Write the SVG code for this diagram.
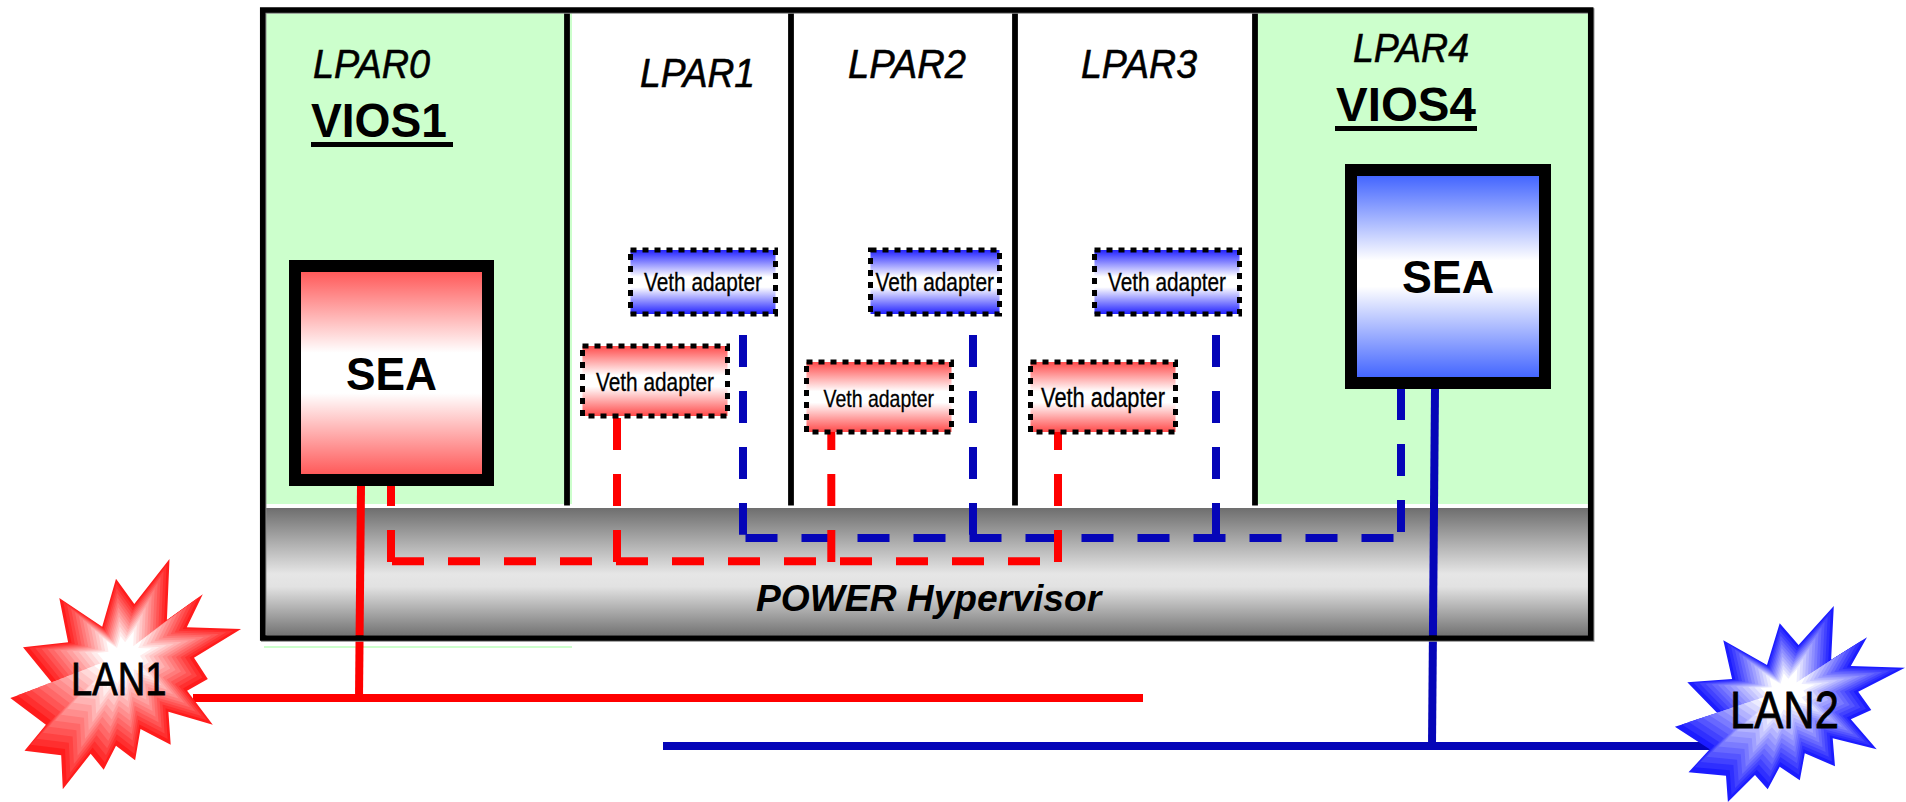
<svg xmlns="http://www.w3.org/2000/svg" xmlns:xlink="http://www.w3.org/1999/xlink" width="1906" height="802" viewBox="0 0 1906 802">
<style>
text{font-family:"Liberation Sans",Arial,sans-serif;fill:#000}
.lp{font-size:40.5px;font-style:italic;stroke:#000;stroke-width:.6}
.vi{font-size:47.5px;font-weight:bold}
.se{font-size:46.5px;font-weight:bold}
.ve{font-size:25px;stroke:#000;stroke-width:.3}
.la{font-size:46.5px;stroke:#000;stroke-width:.8}
.green{fill:#ccffcc}
.div{stroke:#000;stroke-width:5.8;fill:none}
.rd{stroke:#ff0000;stroke-width:8;fill:none;stroke-dasharray:32 24}
.bd{stroke:#0505b8;stroke-width:8;fill:none;stroke-dasharray:32 24}
.rs{stroke:#ff0000;stroke-width:8;fill:none}
.bs{stroke:#0505b8;stroke-width:8;fill:none}
.dot{stroke:#000;stroke-width:5;stroke-dasharray:6 6}
</style>
<defs>
<linearGradient id="hyp" x1="0" y1="0" x2="0" y2="1"><stop offset="0" stop-color="#6e6e6e"/><stop offset=".3" stop-color="#b4b4b4"/><stop offset=".52" stop-color="#e6e6e6"/><stop offset=".62" stop-color="#e2e2e2"/><stop offset="1" stop-color="#747474"/></linearGradient>
<linearGradient id="seaR" x1="0" y1="0" x2="0" y2="1"><stop offset="0" stop-color="#ff5a5a"/><stop offset=".4" stop-color="#ffffff"/><stop offset=".6" stop-color="#ffffff"/><stop offset="1" stop-color="#ff5a5a"/></linearGradient>
<linearGradient id="seaB" x1="0" y1="0" x2="0" y2="1"><stop offset="0" stop-color="#4466ff"/><stop offset=".42" stop-color="#ffffff"/><stop offset=".55" stop-color="#ffffff"/><stop offset="1" stop-color="#4466ff"/></linearGradient>
<linearGradient id="vetR" x1="0" y1="0" x2="0" y2="1"><stop offset="0" stop-color="#ff4a4a"/><stop offset=".42" stop-color="#ffffff"/><stop offset=".58" stop-color="#ffffff"/><stop offset="1" stop-color="#ff4a4a"/></linearGradient>
<linearGradient id="vetB" x1="0" y1="0" x2="0" y2="1"><stop offset="0" stop-color="#2222ff"/><stop offset=".42" stop-color="#ffffff"/><stop offset=".58" stop-color="#ffffff"/><stop offset="1" stop-color="#2222ff"/></linearGradient>
<polygon id="star1" transform="translate(-122 -655)" points="169.5,559 166.9,620 202.8,594.3 186.8,627.3 241.1,629 194,657.7 207.8,679 187.1,690.7 212.8,724.7 168.4,711.7 170.7,744.7 140.5,729 135.1,760.3 116,745.7 103.7,769.7 90.7,753.7 62.8,789.3 61.2,755.3 24.5,750.7 45.9,724.7 10.3,698 52.4,683.3 23,647.3 68.1,642.3 59.3,598 102.2,626.7 116,578.7 134.3,604"/>
<polygon id="star2" transform="translate(-1785 -690)" points="1833.8,606 1831.1,660 1867,637.3 1850.8,666 1905,667.7 1858.2,691.7 1871.3,710 1850.8,719.3 1876.7,749.3 1832.7,738.3 1835,766.3 1804.8,753.3 1799.8,780.3 1779.7,766.7 1767.7,789.3 1755,775 1727.9,802 1726,775.7 1688.5,772.3 1709.7,749.3 1674.9,726.7 1717.5,713.3 1687.3,682.3 1732.1,679 1723.3,640.3 1767,665 1779.7,623.3 1798.6,645"/>
</defs>

<g id="panels">
<rect class="green" x="265" y="13" width="307" height="491"/>
<rect class="green" x="1257" y="13" width="331" height="491"/>
<rect class="green" x="264" y="646" width="308" height="2"/>
<rect x="265" y="508" width="1323" height="127" fill="url(#hyp)"/>
<line class="div" x1="567" y1="13" x2="567" y2="505.5"/>
<line class="div" x1="791" y1="13" x2="791" y2="505.5"/>
<line class="div" x1="1015" y1="13" x2="1015" y2="505.5"/>
<line class="div" x1="1255" y1="13" x2="1255" y2="505.5"/>
</g>

<g id="connectors">
<path class="bd" d="M743 335V534.7"/>
<path class="bd" d="M973 335V534.7"/>
<path class="bd" d="M1216 335V534.7"/>
<path class="bd" d="M1401 388V532"/>
<path class="bd" d="M745.5 538H1394"/>
<path class="rd" d="M391 474V562"/>
<path class="rd" d="M392 561.3H1040"/>
<path class="rd" d="M617 418V562"/>
<path class="rd" d="M831.3 418V562"/>
<path class="rd" d="M1058 418V562"/>
<path class="rs" d="M361 486L359 698"/>
<path class="rs" d="M193 698H1143"/>
<path class="bs" d="M1435 389L1432 746"/>
<path class="bs" d="M663 746H1712"/>
</g>

<g id="frame">
<rect x="263.7" y="11" width="1328" height="628" fill="none" stroke="#8a8a8a" stroke-width="5.5"/>
<rect x="262.7" y="10" width="1328" height="628" fill="none" stroke="#000" stroke-width="5.5"/>
</g>

<g id="lpar0"><text class="lp" x="313" y="78" textLength="117" lengthAdjust="spacingAndGlyphs">LPAR0</text></g>
<g id="vios1"><text class="vi" x="311" y="137" textLength="136" lengthAdjust="spacingAndGlyphs">VIOS1</text><rect x="311" y="142" width="142" height="5"/></g>
<g id="lpar1"><text class="lp" x="640" y="87" textLength="115" lengthAdjust="spacingAndGlyphs">LPAR1</text></g>
<g id="lpar2"><text class="lp" x="848" y="78" textLength="118" lengthAdjust="spacingAndGlyphs">LPAR2</text></g>
<g id="lpar3"><text class="lp" x="1081" y="78" textLength="116" lengthAdjust="spacingAndGlyphs">LPAR3</text></g>
<g id="lpar4"><text class="lp" x="1353" y="62" textLength="116" lengthAdjust="spacingAndGlyphs">LPAR4</text></g>
<g id="vios4"><text class="vi" x="1336" y="120.7" textLength="140" lengthAdjust="spacingAndGlyphs">VIOS4</text><rect x="1335" y="126" width="142" height="5"/></g>

<g id="sea1"><rect x="289" y="260" width="205" height="226"/><rect x="301" y="272" width="181" height="202" fill="url(#seaR)"/><text class="se" x="346" y="390" textLength="91" lengthAdjust="spacingAndGlyphs">SEA</text></g>
<g id="sea4"><rect x="1345" y="164" width="206" height="225"/><rect x="1357" y="176" width="182" height="201" fill="url(#seaB)"/><text class="se" x="1402" y="293" textLength="92" lengthAdjust="spacingAndGlyphs">SEA</text></g>

<g id="veth-b1"><rect x="630.5" y="250" width="145" height="64" fill="url(#vetB)"/><rect class="dot" x="630.5" y="250" width="145" height="64" fill="none"/><text class="ve" x="644" y="291" textLength="118" lengthAdjust="spacingAndGlyphs">Veth adapter</text></g>
<g id="veth-r1"><rect x="582.5" y="346" width="145" height="70" fill="url(#vetR)"/><rect class="dot" x="582.5" y="346" width="145" height="70" fill="none"/><text class="ve" x="596" y="391" textLength="118" lengthAdjust="spacingAndGlyphs">Veth adapter</text></g>
<g id="veth-b2"><rect x="870.5" y="250" width="129" height="64" fill="url(#vetB)"/><rect class="dot" x="870.5" y="250" width="129" height="64" fill="none"/><text class="ve" x="875.5" y="291" textLength="118.5" lengthAdjust="spacingAndGlyphs">Veth adapter</text></g>
<g id="veth-r2"><rect x="806.5" y="362" width="145" height="70" fill="url(#vetR)"/><rect class="dot" x="806.5" y="362" width="145" height="70" fill="none"/><text class="ve" style="font-size:24px" x="823.5" y="407" textLength="110.5" lengthAdjust="spacingAndGlyphs">Veth adapter</text></g>
<g id="veth-b3"><rect x="1094.5" y="250" width="145" height="64" fill="url(#vetB)"/><rect class="dot" x="1094.5" y="250" width="145" height="64" fill="none"/><text class="ve" x="1108" y="291" textLength="118" lengthAdjust="spacingAndGlyphs">Veth adapter</text></g>
<g id="veth-r3"><rect x="1030.5" y="362" width="145" height="70" fill="url(#vetR)"/><rect class="dot" x="1030.5" y="362" width="145" height="70" fill="none"/><text class="ve" style="font-size:27px" x="1041" y="407" textLength="124" lengthAdjust="spacingAndGlyphs">Veth adapter</text></g>

<g id="hypervisor"><text x="756" y="611" font-size="37.2" font-weight="bold" font-style="italic">POWER Hypervisor</text></g>

<g id="lan1">
<g transform="translate(122 655)">
<use xlink:href="#star1" fill="#ff1c1c"/>
<use xlink:href="#star1" transform="scale(.9375)" fill="#ff2f2f"/>
<use xlink:href="#star1" transform="scale(.875)" fill="#ff4242"/>
<use xlink:href="#star1" transform="scale(.8125)" fill="#ff5555"/>
<use xlink:href="#star1" transform="scale(.75)" fill="#ff6868"/>
<use xlink:href="#star1" transform="scale(.6875)" fill="#ff7b7b"/>
<use xlink:href="#star1" transform="scale(.625)" fill="#ff8e8e"/>
<use xlink:href="#star1" transform="scale(.5625)" fill="#ffa0a0"/>
<use xlink:href="#star1" transform="scale(.5)" fill="#ffb3b3"/>
<use xlink:href="#star1" transform="scale(.4375)" fill="#ffc6c6"/>
<use xlink:href="#star1" transform="scale(.375)" fill="#ffd9d9"/>
<use xlink:href="#star1" transform="scale(.3125)" fill="#ffecec"/>
<use xlink:href="#star1" transform="scale(.25)" fill="#ffffff"/>
</g>
<text class="la" x="71" y="695" textLength="95.5" lengthAdjust="spacingAndGlyphs">LAN1</text>
</g>

<g id="lan2">
<g transform="translate(1785 690)">
<use xlink:href="#star2" fill="#1c1cff"/>
<use xlink:href="#star2" transform="scale(.9375)" fill="#2f2fff"/>
<use xlink:href="#star2" transform="scale(.875)" fill="#4242ff"/>
<use xlink:href="#star2" transform="scale(.8125)" fill="#5555ff"/>
<use xlink:href="#star2" transform="scale(.75)" fill="#6868ff"/>
<use xlink:href="#star2" transform="scale(.6875)" fill="#7b7bff"/>
<use xlink:href="#star2" transform="scale(.625)" fill="#8e8eff"/>
<use xlink:href="#star2" transform="scale(.5625)" fill="#a0a0ff"/>
<use xlink:href="#star2" transform="scale(.5)" fill="#b3b3ff"/>
<use xlink:href="#star2" transform="scale(.4375)" fill="#c6c6ff"/>
<use xlink:href="#star2" transform="scale(.375)" fill="#d9d9ff"/>
<use xlink:href="#star2" transform="scale(.3125)" fill="#ececff"/>
<use xlink:href="#star2" transform="scale(.25)" fill="#ffffff"/>
</g>
<text class="la" style="font-size:52px" x="1730" y="728" textLength="109" lengthAdjust="spacingAndGlyphs">LAN2</text>
</g>
</svg>
